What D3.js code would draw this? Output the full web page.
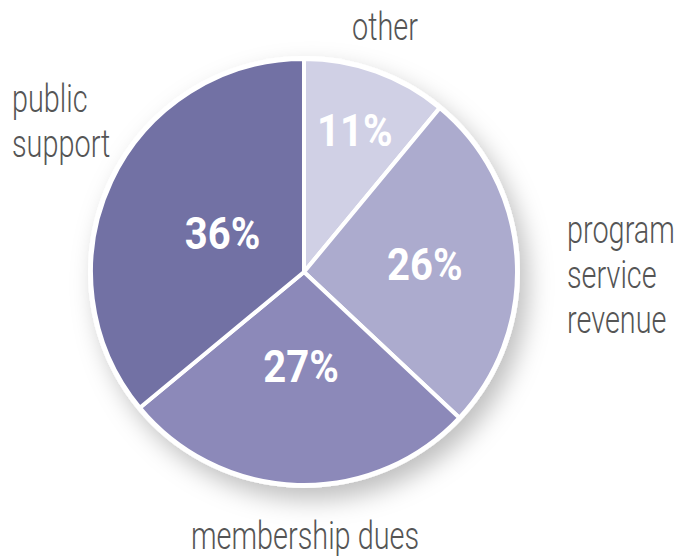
<html>
<head>
  <style>
    body { margin: 0; background: #fff; }
    .outer { font-family: Roboto, "Liberation Sans", sans-serif; font-weight: 300; fill: #555; font-size: 39px; }
    .pct { font-family: Roboto, "Liberation Sans", sans-serif; fill: #fff; font-weight: bold; font-size: 44px; }
  </style>
</head>
<body>
  <svg id="chart"></svg>
  <script src="https://cdn.jsdelivr.net/npm/d3@7"></script>
  <script>
    // data
    var categories = ["other", "program service revenue", "membership dues", "public support"];
    var values = [11, 26, 27, 36];
    var colors = ["#d0d0e5", "#acabce", "#8c89b9", "#7271a4"];

    var width = 678, height = 556;
    var cx = 304, cy = 272, radius = 215;
    // label radius for each percentage (tuned by eye)
    var pctRadius = [150, 121, 95, 90];
    var condensed = 0.74; // fake a condensed face
    var pctCondensed = 0.91;

    var svg = d3.select("#chart").attr("width", width).attr("height", height);

    var defs = svg.append("defs");
    var f = defs.append("filter").attr("id", "shadow")
      .attr("x", "-25%").attr("y", "-25%").attr("width", "150%").attr("height", "150%");
    f.append("feDropShadow").attr("dx", 8).attr("dy", 12).attr("stdDeviation", 12)
      .attr("flood-color", "#000").attr("flood-opacity", 0.25);

    var g = svg.append("g").attr("transform", "translate(" + cx + "," + cy + ")");

    var pie = d3.pie().sort(null).value(function(d) { return d; });
    var arcs = pie(values);
    var arc = d3.arc().innerRadius(0).outerRadius(radius - 2);

    // white disc behind with shadow
    g.append("circle").attr("r", radius + 1).attr("fill", "#fff").attr("filter", "url(#shadow)");

    g.selectAll("path.slice").data(arcs).enter().append("path")
      .attr("class", "slice")
      .attr("d", arc)
      .attr("fill", function(d, i) { return colors[i]; })
      .attr("stroke", "#fff")
      .attr("stroke-width", 4)
      .attr("stroke-linejoin", "round");

    g.selectAll("text.pct").data(arcs).enter().append("text")
      .attr("class", "pct")
      .attr("text-anchor", "middle")
      .attr("dominant-baseline", "central")
      .attr("transform", function(d, i) {
        var c = d3.arc().innerRadius(pctRadius[i]).outerRadius(pctRadius[i]).centroid(d);
        return "translate(" + c[0] + "," + c[1] + ") scale(" + pctCondensed + ",1)";
      })
      .text(function(d) { return d.value + "%"; });

    // outer labels
    var outerLines = [["other"], ["program", "service", "revenue"], ["membership dues"], ["public", "support"]];
    var outerPos = [
      { x: 385, y: 40, anchor: "middle" },
      { x: 567, y: 243, anchor: "start" },
      { x: 305, y: 549, anchor: "middle" },
      { x: 12, y: 112, anchor: "start" }
    ];
    outerLines.forEach(function(lines, i) {
      var t = svg.append("text").attr("class", "outer")
        .attr("transform", "translate(" + outerPos[i].x + "," + outerPos[i].y + ") scale(" + condensed + ",1)")
        .attr("text-anchor", outerPos[i].anchor);
      lines.forEach(function(l, j) {
        t.append("tspan").attr("x", 0).attr("dy", j === 0 ? 0 : 45).text(l);
      });
    });
  </script>
</body>
</html>
